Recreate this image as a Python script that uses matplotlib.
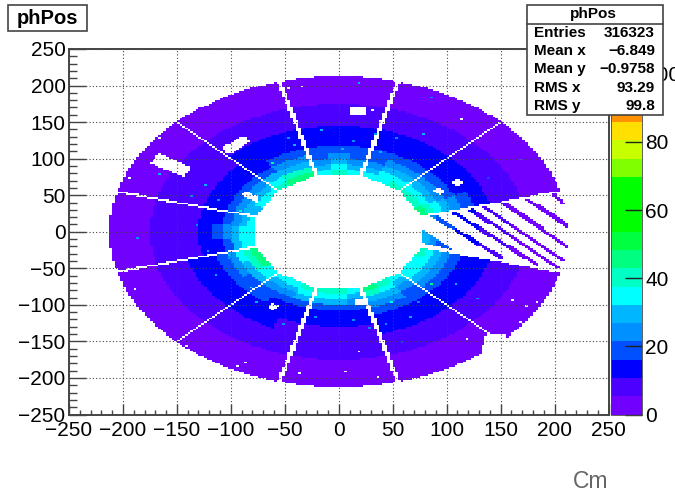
import numpy as np
import matplotlib
matplotlib.use("Agg")
import matplotlib.pyplot as plt
from matplotlib.colors import ListedColormap, BoundaryNorm
from matplotlib.patches import Rectangle
from matplotlib.lines import Line2D
from matplotlib.path import Path

plt.rcParams['font.family'] = ['Liberation Sans', 'DejaVu Sans']

# ---- values ----
palette = ['#7200ff', '#4c00ff', '#0000ff', '#0050ff', '#0090ff', '#00b6ff', '#00ffff',
           '#00ffc4', '#00ff80', '#00ff40', '#00ff00', '#00ff00', '#00ff00', '#80ff00',
           '#c8ff00', '#ffe000', '#ff9000', '#ff5000', '#ff2000', '#ff0000']
z_max = 107.3
x_ticks = [-250, -200, -150, -100, -50, 0, 50, 100, 150, 200, 250]
y_ticks = x_ticks
cbar_ticks = [0, 20, 40, 60, 80, 100]
stats_names = ['Entries', 'Mean x', 'Mean y', 'RMS x', 'RMS y']
stats_values = ['316323', '\u22126.849', '\u22120.9758', '93.29', '99.8']

gap_angles = [15, 45, 75, 105, 135, 165, 195, 225, 255, 285, 315, 345]
gap_halfwidths = [1.3, 1.3, 1.9, 1.9, 1.3, 1.3, 1.3, 1.3, 1.9, 1.9, 1.3, 1.3]
inner_apothem = 77
outer_radius = 212.5

radial_edges = [70, 85, 92, 100, 108, 118, 130, 145, 160, 175, 190, 220]
# one row per 10 degree wedge, starting at 345 degrees and going counter-clockwise
wedge_counts = [
    [30, 26, 21, 17, 14, 11, 9, 7, 5, 4, 3],
    [30, 26, 21, 17, 14, 11, 9, 7, 5, 4, 3],
    [30, 26, 21, 17, 14, 11, 9, 7, 5, 4, 3],
    [46, 42, 36, 28, 22, 17, 13, 10, 7, 5, 3],
    [42, 37, 32, 25, 20, 15, 12, 9, 7, 5, 3],
    [40, 35, 29, 23, 18, 14, 12, 9, 7, 5, 3],
    [38, 35, 31, 26, 21, 16, 13, 9, 7, 5, 3],
    [37, 33, 29, 23, 19, 15, 12, 9, 7, 5, 3],
    [35, 31, 26, 21, 17, 14, 11, 8, 7, 5, 3],
    [37, 31, 26, 21, 17, 13, 11, 8, 7, 5, 3],
    [41, 34, 28, 23, 18, 14, 11, 9, 7, 5, 3],
    [37, 32, 26, 21, 17, 13, 11, 8, 7, 5, 3],
    [44, 38, 30, 24, 19, 15, 12, 9, 7, 5, 3],
    [46, 39, 31, 23, 17, 14, 12, 9, 7, 5, 3],
    [39, 34, 28, 21, 16, 13, 11, 8, 7, 5, 3],
    [35, 31, 26, 19, 15, 12, 10, 8, 7, 5, 3],
    [37, 31, 24, 19, 15, 12, 10, 8, 6, 5, 3],
    [32, 28, 22, 18, 15, 12, 10, 7, 6, 5, 3],
    [34, 30, 26, 20, 16, 13, 10, 7, 6, 5, 3],
    [37, 33, 28, 23, 17, 13, 10, 7, 6, 5, 3],
    [37, 33, 28, 21, 16, 12, 10, 7, 6, 5, 3],
    [46, 41, 33, 26, 18, 14, 12, 9, 7, 5, 3],
    [44, 38, 31, 23, 18, 14, 12, 9, 7, 5, 3],
    [37, 33, 28, 21, 17, 13, 11, 8, 7, 5, 3],
    [34, 30, 26, 21, 17, 13, 11, 8, 7, 5, 3],
    [36, 31, 26, 21, 16, 13, 11, 8, 6, 5, 3],
    [40, 34, 28, 21, 16, 13, 10, 8, 6, 5, 3],
    [38, 33, 28, 21, 16, 12, 10, 7, 6, 5, 3],
    [42, 36, 28, 21, 16, 12, 10, 7, 6, 5, 3],
    [37, 32, 26, 20, 16, 12, 10, 7, 6, 5, 3],
    [46, 39, 31, 24, 18, 14, 11, 8, 6, 5, 3],
    [39, 34, 28, 23, 17, 13, 11, 8, 6, 5, 3],
    [36, 31, 26, 21, 17, 13, 11, 8, 6, 5, 3],
    [36, 33, 28, 23, 18, 14, 11, 8, 6, 5, 3],
    [37, 34, 30, 25, 19, 14, 11, 8, 6, 5, 3],
    [41, 36, 32, 25, 19, 15, 11, 8, 6, 5, 3],
]

# live strips of the damaged sector: x0, y0, x1, y1
strip_x0 = [197, 174, 152, 134, 120, 106, 86]
strip_y0 = [53, 45, 41, 35, 33, 27, 23]
strip_x1 = [208, 212, 211, 208, 203, 184, 150]
strip_y1 = [40, 8, -20, -39, -49, -45, -35]

# dead regions as corner lists
dead_rect_a = [(-175, 94), (-167, 108), (-136, 87), (-144, 75)]
dead_rect_b = [(-108, 116), (-87, 132), (-82, 123), (-103, 105)]
dead_rect_c = [(-90, 50), (-87, 56), (-74, 48), (-76, 41)]
dead_rect_d = [(10, 171), (24, 171), (24, 160), (10, 160)]
dead_rect_e = [(104, 67), (110, 73), (117, 67), (110, 61)]
dead_rect_f = [(87, 56), (93, 62), (99, 56), (93, 50)]
dead_rect_g = [(-66, -102), (-61, -97), (-55, -102), (-61, -107)]
dead_rect_h = [(14, -92), (27, -92), (27, -100), (14, -100)]
dead_rect_i = [(130, -175), (155, -175), (155, -139), (137, -139), (132, -162)]
dead_regions = [dead_rect_a, dead_rect_b, dead_rect_c, dead_rect_d, dead_rect_e,
                dead_rect_f, dead_rect_g, dead_rect_h, dead_rect_i]
live_triangle = [(77, 4), (75, -15), (104, -24)]

dead_x = [-165, -122, -45, -34, -193, 114, 32, 161, 173, 185, 168, 119, 18, 6, 36, -189, -140, -94, -87, -36]
dead_y = [130, 173, 196, 200, 75, 155, 166, -93, -102, -95, -123, -147, -164, -191, -198, -79, -155, -183, -179, -194]
hot_x = [78, 20, 87, 54, 168, -187, -166, -124, 66, 48, 87, -113, -90, -60, -40, 40, 70, -100, 110, 130, 30, -15, -80, 60,
         -130, -120, -45, -30, 5, 15, 35, 100, 120, 140, 95, 75, 45, 15, -20, -50, -75, -110, -135, -150]
hot_y = [135, 205, 183, 128, 98, -8, 78, 64, -116, -97, -72, -59, 30, 95, 120, 110, 100, -30, -70, -90, -130, 140, -75, -150,
         10, -25, 130, 105, 115, 125, 135, 45, 30, 75, -50, -95, -125, -120, -115, -125, -95, 45, 50, -40]
hot_z = [30, 28, 22, 25, 22, 25, 28, 30, 30, 35, 45, 30, 40, 45, 30, 30, 30, 28, 30, 22, 22, 28, 40, 20,
         24, 26, 24, 30, 28, 24, 22, 26, 24, 20, 28, 26, 24, 22, 24, 22, 30, 24, 22, 20]

# ---- build the histogram ----
edges = np.arange(-250, 250.01, 2.5)
cx = 0.5 * (edges[:-1] + edges[1:])
X, Y = np.meshgrid(cx, cx)
R = np.hypot(X, Y)
TH = np.degrees(np.arctan2(Y, X)) % 360
centre = (np.round(TH / 30) * 30) % 360
band = np.clip(np.digitize(R, radial_edges) - 1, 0, len(radial_edges) - 2)
table = np.array(wedge_counts, dtype=float)
Z = table[(((TH + 15) % 360) // 10).astype(int), band]

live = (R <= outer_radius) & (R * np.cos(np.radians(TH - centre)) >= inner_apothem)
for a, hw in zip(gap_angles, gap_halfwidths):
    t = np.radians(a)
    perp = np.abs(-X * np.sin(t) + Y * np.cos(t))
    along = X * np.cos(t) + Y * np.sin(t)
    live &= ~((perp < hw) & (along > 0))
pts = np.column_stack([X.ravel(), Y.ravel()])
for poly in dead_regions:
    live &= ~Path(poly).contains_points(pts).reshape(X.shape)

# damaged sector keeps only strips and a small triangle
in_sector = centre == 0
keep = Path(live_triangle).contains_points(pts).reshape(X.shape)
for x0, y0, x1, y1 in zip(strip_x0, strip_y0, strip_x1, strip_y1):
    dx, dy = x1 - x0, y1 - y0
    s = np.clip(((X - x0) * dx + (Y - y0) * dy) / (dx * dx + dy * dy), 0, 1)
    keep |= np.hypot(X - x0 - s * dx, Y - y0 - s * dy) < 2.3
live &= ~in_sector | keep

for x, y, v in zip(hot_x, hot_y, hot_z):
    Z[np.searchsorted(edges, y) - 1, np.searchsorted(edges, x) - 1] = v
for x, y in zip(dead_x, dead_y):
    live[np.searchsorted(edges, y) - 1, np.searchsorted(edges, x) - 1] = False

Zm = np.ma.masked_where(~live, Z)

# ---- draw ----
W, H = 675, 493
fig = plt.figure(figsize=(W / 100, H / 100), dpi=100)
DARK = '#444444'


def rect(l, t, r, b):
    return [l / W, 1 - b / H, (r - l) / W, (b - t) / H]


ax = fig.add_axes(rect(69, 49, 608.5, 414.5))
levels = np.linspace(0, z_max, len(palette) + 1)
cmap = ListedColormap(palette)
norm = BoundaryNorm(levels, cmap.N)
mesh = ax.pcolormesh(edges, edges, Zm, cmap=cmap, norm=norm, rasterized=True, zorder=1)
ax.set_xlim(-250, 250)
ax.set_ylim(-250, 250)
ax.set_xticks(x_ticks)
ax.set_yticks(y_ticks)
ax.set_xticks(np.arange(-250, 251, 10), minor=True)
ax.set_yticks(np.arange(-250, 251, 10), minor=True)
ax.tick_params(axis='x', which='major', direction='in', length=7.6, width=1, color=DARK, labelsize=15, pad=5)
ax.tick_params(axis='x', which='minor', direction='in', length=3.8, width=1, color=DARK)
ax.tick_params(axis='y', which='major', direction='in', length=12, width=1, color=DARK, labelsize=15, pad=2.5)
ax.tick_params(axis='y', which='minor', direction='in', length=6, width=1, color=DARK)
ax.grid(True, which='major', color='#444444', linestyle=(0, (1, 2)), linewidth=0.8, zorder=2)
ax.set_axisbelow(False)
for s in ax.spines.values():
    s.set_color(DARK)
    s.set_linewidth(1.4)

cax = fig.add_axes(rect(611, 49, 642, 414.5))
cb = fig.colorbar(mesh, cax=cax, ticks=cbar_ticks, spacing='proportional', drawedges=False)
cb.outline.set_edgecolor(DARK)
cb.outline.set_linewidth(0.6)
cax.minorticks_off()
cax.tick_params(axis='y', direction='in', length=12, width=1, color='#222222', labelsize=15, pad=2.5)

# title box
fig.add_artist(Rectangle((8 / W, 1 - 31 / H), 79 / W, 26 / H, transform=fig.transFigure,
                         facecolor='white', edgecolor=DARK, linewidth=1.2, zorder=5))
fig.text(47.5 / W, 1 - 18 / H, 'phPos', ha='center', va='center', fontsize=14.5, fontweight='bold', zorder=6)

# statistics box
fig.add_artist(Rectangle((527 / W, 1 - 115 / H), 136 / W, 110 / H, transform=fig.transFigure,
                         facecolor='white', edgecolor=DARK, linewidth=1.2, zorder=5))
fig.add_artist(Line2D([527 / W, 663 / W], [1 - 23.5 / H] * 2, transform=fig.transFigure,
                      color=DARK, linewidth=1.2, zorder=6))
fig.text(593.5 / W, 1 - 14 / H, 'phPos', ha='center', va='center', fontsize=11, fontweight='bold', zorder=6)
for py, name, val in zip([33, 51, 69, 88, 106], stats_names, stats_values):
    fig.text(534 / W, 1 - py / H, name, ha='left', va='center', fontsize=11, fontweight='bold', zorder=6)
    fig.text(655 / W, 1 - py / H, val, ha='right', va='center', fontsize=11, fontweight='bold', zorder=6)

fig.text(591 / W, 1 - 481 / H, 'Cm', ha='center', va='center', fontsize=16.5, color='#666666')

fig.savefig('out.png', dpi=100)
